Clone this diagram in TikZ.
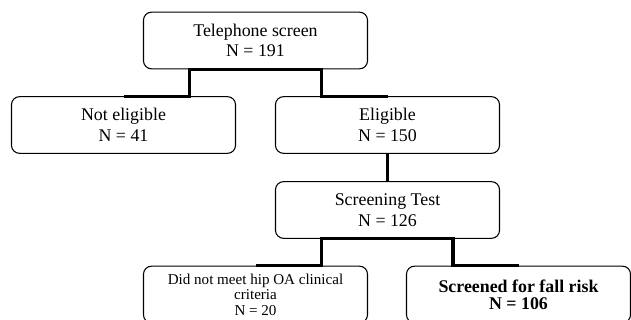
\documentclass[tikz,border=0pt]{standalone}
\usepackage{fontspec}
\setmainfont{Liberation Serif}
\usetikzlibrary{calc}

\begin{document}
\begin{tikzpicture}[
        x=0.75pt, y=-0.75pt,
        every node/.style={align=center},
        stage/.style={draw, line width=0.8pt, rounded corners=6pt, fill=white,
                      minimum width=168pt, minimum height=42.5pt, inner sep=2pt,
                      font=\fontsize{13.4}{15.5}\selectfont},
        link/.style={line width=2.3pt},
    ]
    \clip (0,0) rectangle (631,320);

    % --- Stages of the screening flow ----------------------------------------
    \node[stage] (phone)  at (255.5, 40.5)  {Telephone screen\\N = 191};
    \node[stage] (noelig) at (123.5,125)    {Not eligible\\N = 41};
    \node[stage] (elig)   at (387.5,125)    {Eligible\\N = 150};
    \node[stage] (test)   at (387.5,210)    {Screening Test\\N = 126};
    \node[stage, font=\fontsize{11.3}{11.6}\selectfont]
        (nohip)  at (255.5,294.5) {Did not meet hip OA clinical\\criteria\\N = 20};
    \node[stage, font=\bfseries\fontsize{13.4}{12.5}\selectfont]
        (fall)   at (518.5,294.5) {Screened for fall risk\\N = 106};

    % --- Elbow connectors, stepping down at the half-way mark ----------------
    \draw[link] (phone.south) -| ($(phone.south)!0.5!(noelig.north)$) |- (noelig.north);
    \draw[link] (phone.south) -| ($(phone.south)!0.5!(elig.north)$) |- (elig.north);
    \draw[link] (elig.south) -- (test.north);
    \draw[link] (test.south) -| ($(test.south)!0.5!(nohip.north)$) |- (nohip.north);
    \draw[link] (test.south) -| ($(test.south)!0.5!(fall.north)$) |- (fall.north);

    \end{tikzpicture}
\end{document}
